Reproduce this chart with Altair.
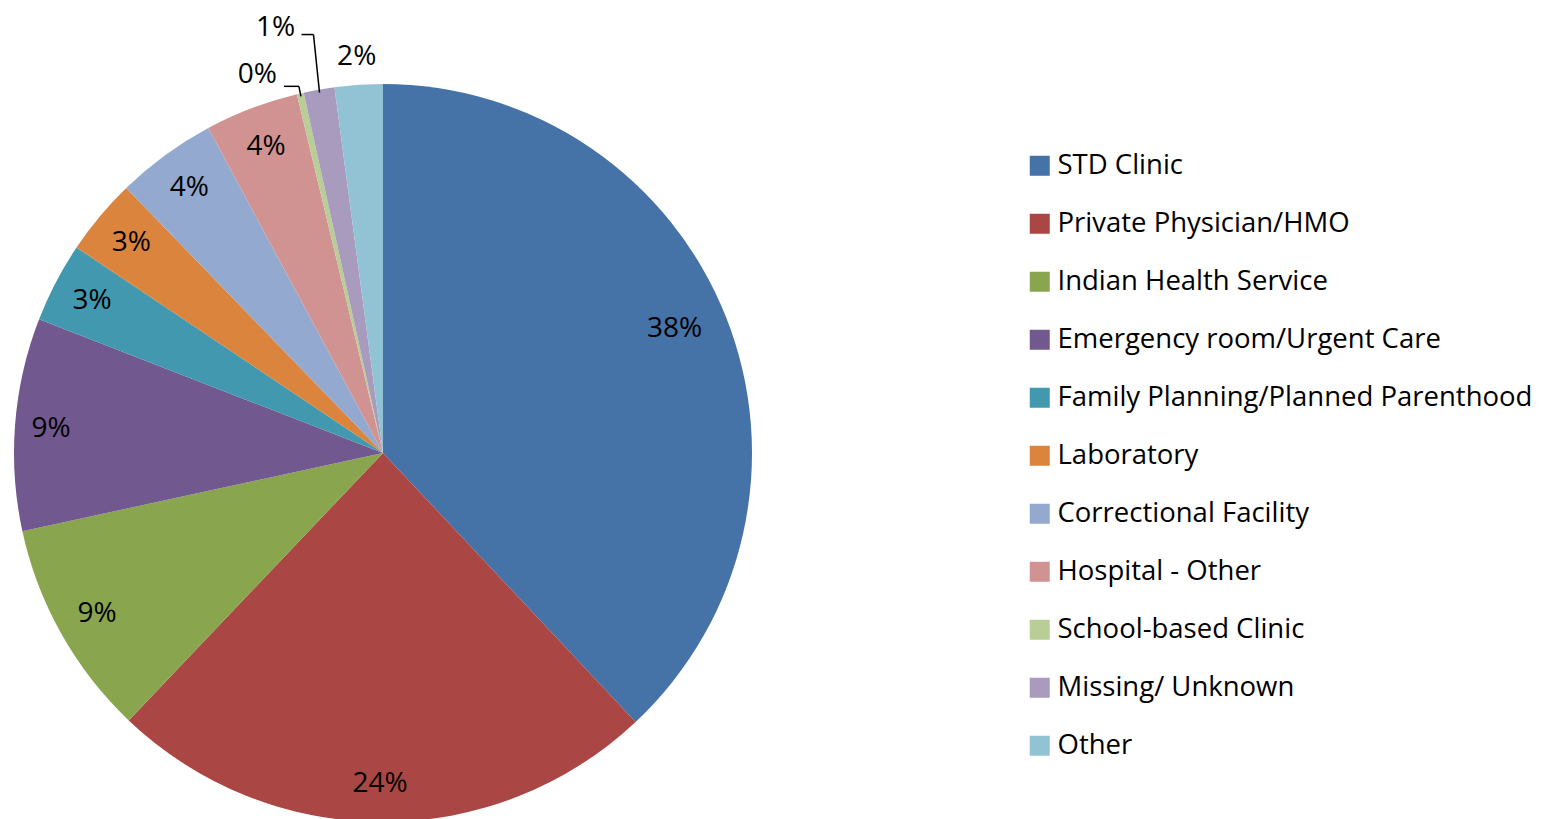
import altair as alt
import pandas as pd

categories = [
    "STD Clinic",
    "Private Physician/HMO",
    "Indian Health Service",
    "Emergency room/Urgent Care",
    "Family Planning/Planned Parenthood",
    "Laboratory",
    "Correctional Facility",
    "Hospital - Other",
    "School-based Clinic",
    "Missing/ Unknown",
    "Other",
]
values = [38.0, 24.1, 9.5, 9.3, 3.5, 3.35, 4.4, 4.1, 0.3, 1.35, 2.1]
labels = ["38%", "24%", "9%", "9%", "3%", "3%", "4%", "4%", "0%", "1%", "2%"]
colors = ["#4572A7", "#AA4643", "#89A54E", "#71588F", "#4198AF", "#DB843D",
          "#93A9CF", "#D19392", "#B9CD96", "#A99BBD", "#92C3D4"]

df = pd.DataFrame({"category": categories, "value": values, "label": labels,
                   "idx": list(range(len(categories)))})

FONT = "Open Sans"
W, H = 1540, 811
CX, CY, R = 375, 445, 369

base = alt.Chart(df).transform_joinaggregate(
    total="sum(value)"
).transform_window(
    cum="sum(value)", sort=[alt.SortField("idx")], frame=[None, 0]
).transform_calculate(
    ex=f"{CX} + {R - 3} * sin((datum.cum - datum.value/2) / datum.total * 2 * PI)",
    ey=f"{CY} - {R - 3} * cos((datum.cum - datum.value/2) / datum.total * 2 * PI)",
)

theta = alt.Theta("value:Q", stack=True)
order = alt.Order("idx:Q", sort="ascending")

arcs = base.mark_arc(radius=R, stroke=None).encode(
    theta=theta,
    order=order,
    color=alt.Color(
        "category:N",
        scale=alt.Scale(domain=categories, range=colors),
        sort=categories,
        legend=alt.Legend(
            title=None, orient="none", legendX=1018, legendY=144,
            symbolType="square", symbolSize=400, symbolStrokeWidth=0,
            labelFont=FONT, labelFontSize=27.5, labelColor="#000000",
            labelOffset=4, rowPadding=29, labelLimit=0,
        ),
    ),
    x=alt.value(CX), y=alt.value(CY),
)

# label placement: (radius, dx, dy) per category
placement = {
    "STD Clinic": (318, -4, -7),
    "Private Physician/HMO": (328, -2, 3),
    "Indian Health Service": (328, 0, 0),
    "Emergency room/Urgent Care": (334, 1, 2),
    "Family Planning/Planned Parenthood": (328, 0, 0),
    "Laboratory": (328, 0, 0),
    "Correctional Facility": (328, 0, 0),
    "Hospital - Other": (328, 0, 0),
    "School-based Clinic": (400, -36, 12),
    "Missing/ Unknown": (446, -30, 14),
    "Other": (399, 0, 2),
}

groups = {}
for cat, p in placement.items():
    groups.setdefault(p, []).append(cat)

text_layers = []
for (rad, dx, dy), cats in groups.items():
    cond = " || ".join([f"datum.category == '{c}'" for c in cats])
    text_layers.append(
        base.mark_text(radius=rad, font=FONT, fontSize=28, color="#000000",
                       align="center", baseline="middle", dx=dx, dy=dy)
        .transform_calculate(t=f"({cond}) ? datum.label : ''")
        .encode(theta=theta, order=order, text="t:N",
                x=alt.value(CX), y=alt.value(CY))
    )

# leader line geometry (pixels): shift, rise, run
leader = {"School-based Clinic": (2, 10, 15), "Missing/ Unknown": (6, 58, 12)}

def leader_layers(cat, shift, rise, run):
    b = base.transform_filter(f"datum.category == '{cat}'").transform_calculate(
        kx=f"datum.ex - {shift}", ky=f"datum.ey - {rise}", hx=f"datum.ex - {shift} - {run}"
    )
    v = b.mark_rule(color="#000000", strokeWidth=1.5).encode(
        x=alt.X("ex:Q", scale=None), y=alt.Y("ey:Q", scale=None),
        x2="kx:Q", y2="ky:Q")
    h = b.mark_rule(color="#000000", strokeWidth=1.5).encode(
        x=alt.X("kx:Q", scale=None), y=alt.Y("ky:Q", scale=None),
        x2="hx:Q", y2="ky:Q")
    return [v, h]

lines = []
for c, (s, r, rn) in leader.items():
    lines += leader_layers(c, s, r, rn)

chart = alt.layer(arcs, *text_layers, *lines).properties(
    width=W, height=H, autosize=alt.AutoSizeParams(type="none"), padding=0
).configure_view(stroke=None)

chart.save("out.html", embed_options={"renderer": "svg", "actions": False})
